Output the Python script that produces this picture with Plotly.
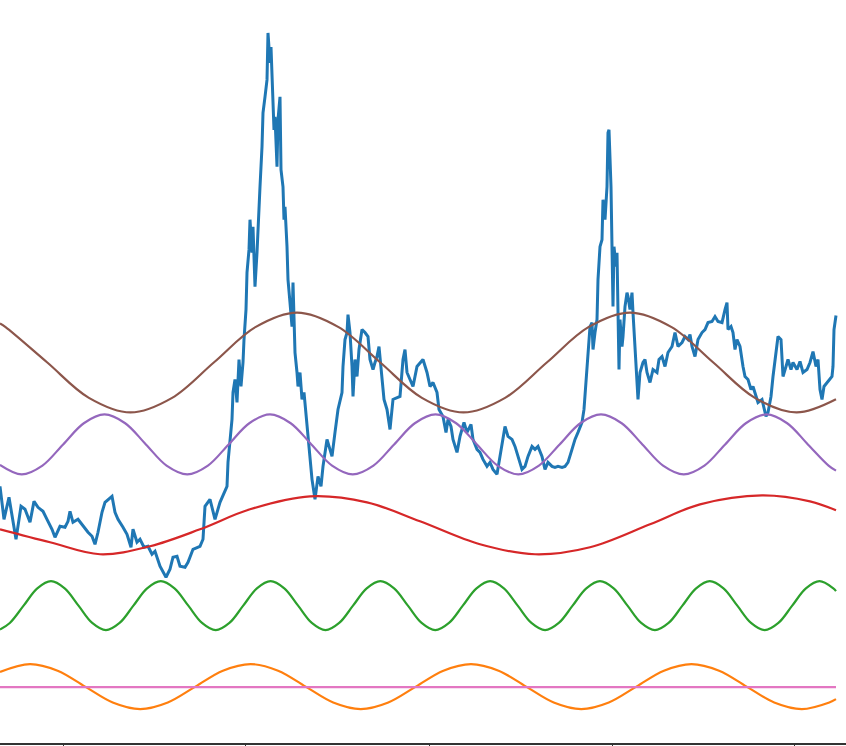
import plotly.graph_objects as go

# ---- blue series ----
blue_x = [0, 4, 9, 13, 16, 21, 25, 30, 34, 38, 43, 47, 52, 55, 60, 65, 68, 70, 73, 78,
          83, 88, 92, 95, 98, 102, 105, 111, 112, 115, 118, 123, 127, 131, 133, 137, 140, 144, 148, 152,
          155, 160, 163, 166, 170, 173, 177, 180, 185, 188, 193, 200, 203, 205, 210, 215, 220, 227, 228, 232,
          233, 235, 237, 239, 241, 243, 244, 246, 247, 249, 250, 252, 253, 255, 257, 258, 260, 262, 263, 265,
          267, 268, 270, 271, 273, 274, 275, 277, 278, 280, 281, 283, 284, 285, 287, 288, 290, 292, 293, 295,
          297, 298, 300, 302, 304, 307, 309, 312, 315, 318, 321, 323, 327, 330, 332, 335, 338, 342, 343, 345,
          347, 348, 350, 352, 353, 355, 357, 359, 362, 365, 368, 370, 373, 375, 377, 379, 382, 384, 387, 390,
          393, 397, 400, 403, 405, 407, 410, 413, 417, 420, 423, 427, 430, 433, 437, 439, 443, 446, 448, 451,
          453, 457, 460, 464, 467, 471, 473, 477, 480, 483, 487, 490, 493, 497, 500, 503, 505, 508, 512, 515,
          518, 522, 525, 528, 532, 535, 538, 542, 545, 548, 552, 555, 558, 562, 565, 568, 572, 575, 578, 582,
          584, 587, 588, 590, 592, 593, 595, 597, 598, 600, 602, 603, 605, 607, 608, 609, 611, 612, 613, 614,
          616, 617, 619, 620, 622, 623, 625, 627, 628, 630, 632, 633, 635, 637, 638, 640, 643, 645, 647, 650,
          653, 657, 659, 662, 665, 668, 672, 675, 678, 682, 685, 688, 690, 692, 695, 698, 702, 705, 708, 712,
          715, 718, 722, 725, 727, 728, 731, 733, 735, 737, 740, 743, 745, 748, 751, 753, 756, 758, 762, 764,
          766, 768, 771, 773, 776, 778, 781, 783, 786, 788, 791, 793, 797, 800, 803, 807, 810, 813, 816, 818,
          820, 822, 824, 827, 829, 832, 833, 834, 836]
blue_y = [257, 224, 246, 224, 204, 237, 234, 221, 242, 236, 232, 224, 214, 206, 217, 216, 222, 232, 221, 224,
          217, 211, 207, 199, 211, 231, 241, 246, 247, 231, 224, 216, 209, 196, 214, 201, 204, 196, 197, 189,
          192, 177, 172, 166, 174, 186, 187, 177, 176, 181, 194, 197, 204, 237, 244, 224, 241, 257, 281, 324,
          351, 364, 341, 384, 357, 381, 404, 434, 471, 494, 524, 491, 517, 457, 491, 517, 557, 597, 631, 647,
          664, 711, 681, 697, 641, 614, 627, 577, 624, 647, 574, 557, 524, 537, 497, 464, 441, 417, 461, 391,
          371, 357, 371, 344, 351, 317, 291, 264, 244, 267, 257, 277, 304, 294, 287, 311, 334, 351, 377, 404,
          411, 429, 411, 377, 347, 384, 367, 394, 414, 411, 407, 384, 374, 381, 387, 397, 367, 344, 334, 314,
          344, 346, 347, 384, 394, 371, 364, 357, 377, 381, 384, 371, 357, 361, 351, 334, 327, 311, 324, 317,
          304, 291, 307, 321, 311, 319, 304, 294, 291, 284, 277, 281, 274, 269, 287, 304, 317, 307, 304, 297,
          287, 274, 277, 287, 297, 294, 297, 287, 274, 281, 277, 276, 277, 276, 277, 281, 294, 304, 311, 321,
          334, 381, 397, 417, 421, 394, 411, 424, 464, 497, 504, 544, 524, 557, 611, 614, 557, 507, 437, 497,
          477, 491, 374, 424, 397, 407, 437, 451, 447, 434, 451, 431, 391, 357, 344, 371, 381, 384, 371, 361,
          374, 371, 384, 387, 377, 391, 397, 411, 397, 401, 407, 404, 409, 397, 387, 404, 411, 414, 421, 422,
          427, 422, 421, 434, 441, 414, 417, 411, 394, 404, 397, 377, 367, 364, 354, 357, 347, 341, 344, 334,
          327, 331, 347, 367, 394, 407, 404, 367, 377, 384, 374, 381, 374, 382, 371, 374, 381, 392, 377, 384,
          354, 344, 357, 361, 364, 367, 377, 414, 428]

# ---- orange wave ----
orange_x = [0, 30, 57.6, 85.1, 112.7, 140.3, 167.8, 195.4, 222.9, 250.5, 278.1, 305.6, 333.2, 360.8, 388.3,
            415.9, 443.4, 471.0, 498.6, 526.1, 553.7, 581.3, 608.8, 636.4, 663.9, 691.5, 719.1, 746.6, 774.2,
            801.8, 829.3, 836]
orange_y = [71.2, 79, 72.4, 56.5, 40.6, 34, 40.6, 56.5, 72.4, 79, 72.4, 56.5, 40.6, 34, 40.6,
            56.5, 72.4, 79, 72.4, 56.5, 40.6, 34, 40.6, 56.5, 72.4, 79, 72.4, 56.5, 40.6,
            34, 40.6, 43.9]

# ---- green wave ----
green_x = [0, 9.8, 23.6, 37.3, 51.0, 64.7, 78.5, 92.2, 105.9, 119.6, 133.4, 147.1, 160.8, 174.5, 188.3,
           202.0, 215.7, 229.4, 243.2, 256.9, 270.6, 284.3, 298.1, 311.8, 325.5, 339.2, 353.0, 366.7, 380.4,
           394.1, 407.9, 421.6, 435.3, 449.0, 462.8, 476.5, 490.2, 503.9, 517.7, 531.4, 545.1, 558.8, 572.6,
           586.3, 600.0, 613.7, 627.5, 641.2, 654.9, 668.6, 682.4, 696.1, 709.8, 723.5, 737.3, 751.0, 764.7,
           778.4, 792.2, 805.9, 819.6, 833.3, 836]
green_y = [113.6, 120.2, 137.5, 154.8,
           162, 154.8, 137.5, 120.2, 113, 120.2, 137.5, 154.8,
           162, 154.8, 137.5, 120.2, 113, 120.2, 137.5, 154.8,
           162, 154.8, 137.5, 120.2, 113, 120.2, 137.5, 154.8,
           162, 154.8, 137.5, 120.2, 113, 120.2, 137.5, 154.8,
           162, 154.8, 137.5, 120.2, 113, 120.2, 137.5, 154.8,
           162, 154.8, 137.5, 120.2, 113, 120.2, 137.5, 154.8,
           162, 154.8, 137.5, 120.2, 113, 120.2, 137.5, 154.8,
           162, 154.8, 152]

# ---- red wave ----
red_x = [0, 50, 100, 150, 200, 250, 310, 367, 420, 480, 535, 590, 650, 700, 762, 810, 836]
red_y = [214, 201, 189, 197, 214, 234, 247, 241, 222, 199, 189, 196, 219, 239, 248, 242, 233]

# ---- purple wave ----
purple_x = [0, 21.75, 42.44, 63.13, 83.81, 104.5, 125.19, 145.88, 166.56, 187.25, 207.94, 228.63, 249.31,
            270, 290.69, 311.38, 332.06, 352.75, 373.44, 394.13, 414.81, 435.5, 456.19, 476.88, 497.56,
            518.25, 538.94, 559.63, 580.31, 601, 621.69, 642.38, 663.06, 683.75, 704.44, 725.13, 745.81,
            766.5, 787.19, 807.88, 828.56, 836]
purple_y = [278.5,
            269, 277.8, 299, 320.2, 329, 320.2, 299, 277.8,
            269, 277.8, 299, 320.2, 329, 320.2, 299, 277.8,
            269, 277.8, 299, 320.2, 329, 320.2, 299, 277.8,
            269, 277.8, 299, 320.2, 329, 320.2, 299, 277.8,
            269, 277.8, 299, 320.2, 329, 320.2, 299, 277.8,
            272.7]

# ---- brown wave ----
brown_x = [0, 5.6, 47.3, 88.9, 130.5, 172.1, 213.8, 255.4, 297, 338.6, 380.3, 421.9, 463.5, 505.1,
           546.8, 588.4, 630, 671.6, 713.3, 754.9, 796.5, 836]
brown_y = [420, 416.4, 381, 345.6, 331, 345.6, 381, 416.4, 431, 416.4, 381, 345.6, 331, 345.6,
           381, 416.4, 431, 416.4, 381, 345.6, 331, 344.2]

# ---- pink flat line ----
pink_x = [0, 836]
pink_y = [56, 56]

x_ticks = [63, 245, 429, 612, 794]

fig = go.Figure()
fig.add_trace(go.Scatter(x=blue_x, y=blue_y, mode="lines",
                         line=dict(color="#1f77b4", width=3)))
fig.add_trace(go.Scatter(x=orange_x, y=orange_y, mode="lines",
                         line=dict(color="#ff7f0e", width=2.2, shape="spline", smoothing=1)))
fig.add_trace(go.Scatter(x=green_x, y=green_y, mode="lines",
                         line=dict(color="#2ca02c", width=2.2, shape="spline", smoothing=1)))
fig.add_trace(go.Scatter(x=red_x, y=red_y, mode="lines",
                         line=dict(color="#d62728", width=2.2, shape="spline", smoothing=1)))
fig.add_trace(go.Scatter(x=purple_x, y=purple_y, mode="lines",
                         line=dict(color="#9467bd", width=2.2, shape="spline", smoothing=1)))
fig.add_trace(go.Scatter(x=brown_x, y=brown_y, mode="lines",
                         line=dict(color="#8c564b", width=2.2, shape="spline", smoothing=1)))
fig.add_trace(go.Scatter(x=pink_x, y=pink_y, mode="lines",
                         line=dict(color="#e377c2", width=2.2)))

fig.update_layout(
    width=846, height=746,
    margin=dict(l=0, r=0, t=0, b=3, pad=0),
    paper_bgcolor="white", plot_bgcolor="white",
    showlegend=False,
    xaxis=dict(range=[0, 846], showgrid=False, zeroline=False, showline=True,
               linecolor="#333333", linewidth=2, tickmode="array", tickvals=x_ticks,
               ticks="outside", ticklen=3, tickcolor="#333333", showticklabels=False),
    yaxis=dict(range=[0, 744], showgrid=False, zeroline=False, showline=False,
               showticklabels=False, ticks=""),
)

fig.write_html("out.html", config={"displayModeBar": False},
               post_script="document.body.style.margin='0';document.body.style.overflow='hidden';")
